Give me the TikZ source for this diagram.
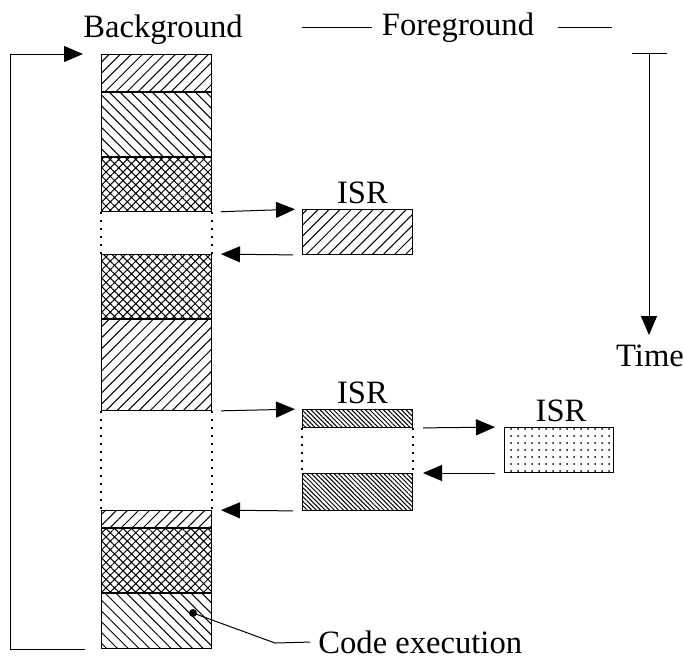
\documentclass[tikz,border=0pt]{standalone}
\usepackage{fontspec}
\setmainfont{Liberation Serif}
\usetikzlibrary{arrows.meta,patterns.meta,positioning}

\begin{document}
\begin{tikzpicture}[x=0.5pt,y=-0.5pt,
    blk/.style={draw, line width=0.5pt, inner sep=0pt, anchor=north west, minimum width=55pt},
    lbl/.style={inner sep=0pt, font=\fontsize{16.3}{20}\selectfont},
    arr/.style={line width=0.5pt, -{Triangle[length=9.5pt,width=8pt]}},
    gap/.style={line width=0.7pt, dash pattern=on 0.8pt off 3.2pt},
    ne/.style={pattern={Lines[angle=45,distance=3.9pt,line width=0.5pt]}},
    nw/.style={pattern={Lines[angle=-45,distance=3.8pt,line width=0.5pt]}},
    xh/.style={pattern={Hatch[angle=45,distance=3pt,line width=0.5pt]}},
    dense/.style={pattern={Lines[angle=-45,distance=1.6pt,line width=0.5pt]}},
    dots/.style={pattern={Dots[distance=3.5pt,radius=0.5pt]}}]
    \useasboundingbox (0,0) rectangle (684,660);

    % Draw background column
    \node[blk, ne, minimum height=18.5pt] (b1) at (101,54) {};
    \node[blk, nw, minimum height=32pt, below=0pt of b1] (b2) {};
    \node[blk, xh, minimum height=27pt, below=0pt of b2] (b3) {};
    \node[blk, xh, minimum height=32pt] (b4) at (101,254) {};
    \node[blk, ne, minimum height=45.5pt, below=0pt of b4] (b5) {};
    \node[blk, ne, minimum height=8.5pt] (b6) at (101,510) {};
    \node[blk, xh, minimum height=32pt, below=0pt of b6] (b7) {};
    \node[blk, nw, minimum height=27.5pt, below=0pt of b7] (b8) {};

    % Draw interrupt routines
    \node[blk, ne, minimum height=22.5pt] (isr1) at (302,209) {};
    \node[blk, dense, minimum height=9pt] (isr2a) at (302,409) {};
    \node[blk, dense, minimum height=18.5pt] (isr2b) at (302,473) {};
    \node[blk, dots, minimum width=54.5pt, minimum height=22.5pt] (isr3) at (504,427) {};

    % Suspended parts
    \draw[gap] (b3.south west) -- (b4.north west);
    \draw[gap] (b3.south east) -- (b4.north east);
    \draw[gap] (b5.south west) -- (b6.north west);
    \draw[gap] (b5.south east) -- (b6.north east);
    \draw[gap] (isr2a.south west) -- (isr2b.north west);
    \draw[gap] (isr2a.south east) -- (isr2b.north east);

    % Labels
    \node[lbl, anchor=base] (bglbl) at (163,37) {Background};
    \node[lbl, anchor=base] (fglbl) at (458,35) {Foreground};
    \node[lbl, above=2.5pt of isr1, xshift=2.5pt] (isr1lbl) {ISR};
    \node[lbl, above=2.5pt of isr2a, xshift=2.5pt] (isr2lbl) {ISR};
    \node[lbl, above=2.5pt of isr3, xshift=1pt] (isr3lbl) {ISR};
    \node[lbl, anchor=base] (time) at (650,366) {Time};
    \node[lbl, anchor=base west] (code) at (318,653) {Code execution};

    % Foreground rules
    \draw[line width=0.5pt] ([xshift=-5pt]fglbl.west) -- ++(-70,0);
    \draw[line width=0.5pt] ([xshift=12pt]fglbl.east) -- ++(54,0);

    % Interrupts and returns
    \draw[arr, shorten <=4.5pt, shorten >=3.5pt] (b3.south east) -- (isr1.north west);
    \draw[arr, shorten <=4.5pt, shorten >=4.5pt] (isr1.south west) -- (b4.north east);
    \draw[arr, shorten <=4.5pt, shorten >=3.5pt] (b5.south east) -- (isr2a.north west);
    \draw[arr, shorten <=5pt, shorten >=4.5pt] (isr2a.south east) -- (isr3.north west);
    \draw[arr, shorten <=4.5pt, shorten >=5pt] (isr3.south west) -- (isr2b.north east);
    \draw[arr, shorten <=4.5pt, shorten >=4.5pt] (isr2b.south west) -- (b6.north east);

    % Loop back to start
    \coordinate (brk) at (10,54);
    \draw[arr, shorten <=8pt, shorten >=9pt] (b8.south west) -| (brk) -- (b1.north west);

    % Time axis
    \coordinate (t0) at (649,53);
    \draw[line width=0.5pt] ([xshift=-8.5pt]t0) -- ([xshift=9pt]t0);
    \draw[arr, shorten >=4.5pt] (t0) -- (t0 |- time.north);

    % Code execution marker
    \coordinate (dot) at (193,613);
    \coordinate (bend) at (275,643);
    \fill (dot) circle (2pt);
    \draw[line width=0.5pt, shorten >=4pt] (dot) -- (bend) -- (code.west);
\end{tikzpicture}
\end{document}
